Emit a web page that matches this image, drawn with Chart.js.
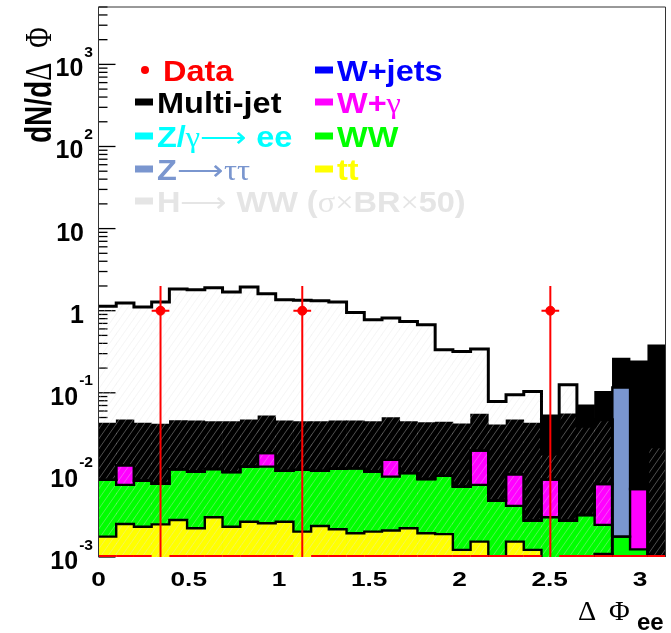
<!DOCTYPE html>
<html>
<head>
<meta charset="utf-8">
<title>dN/dΔΦ ee</title>
<script src="https://cdn.jsdelivr.net/npm/chart.js@4.4.1/dist/chart.umd.min.js"></script>
<style>
  html, body { margin: 0; padding: 0; background: #fff; }
  #wrap { width: 671px; height: 633px; }
</style>
</head>
<body>
<div id="wrap"><canvas id="chart" width="671" height="633"></canvas></div>
<script>
// 32 bins in delta-phi, 0 .. pi
const NBINS = 32;
const X_MAX = Math.PI;

// per-bin contributions, dN/dΔΦ
const ttbar = [0.00177, 0.00252, 0.00234, 0.0025, 0.00282, 0.00224, 0.00305, 0.00234,
  0.00269, 0.00258, 0.00269, 0.00204, 0.00239, 0.00218, 0.00195, 0.00204,
  0.0021, 0.00224, 0.00195, 0.0019, 0.00122, 0.00154, 0, 0.00154,
  0.00122, 0, 0, 0, 0.00109, 0, 0, 0];
const ww = [0.00692, 0.00503, 0.00614, 0.0053, 0.00888, 0.00876, 0.00875, 0.00846,
  0.00991, 0.01002, 0.00851, 0.00946, 0.00881, 0.00972, 0.01005, 0.00896,
  0.00744, 0.00826, 0.00695, 0.00783, 0.00598, 0.00601, 0.00486, 0.00265,
  0.00155, 0.00305, 0.00277, 0.00325, 0.00137, 0.00177, 0.00124, 0];
const wgamma = [0, 0.0055, 0, 0, 0, 0, 0, 0,
  0, 0.0058, 0, 0, 0, 0, 0, 0,
  0.0057, 0, 0, 0, 0, 0.0122, 0, 0.006,
  0, 0.0057, 0, 0, 0.0053, 0, 0.0055, 0];
const ztautau = [0, 0, 0, 0, 0, 0, 0, 0,
  0, 0, 0, 0, 0, 0, 0, 0,
  0, 0, 0, 0, 0, 0, 0, 0,
  0, 0, 0, 0, 0, 0.114, 0, 0];
const zee = [0, 0, 0, 0, 0, 0, 0, 0,
  0, 0, 0, 0, 0, 0, 0, 0,
  0, 0, 0, 0, 0, 0, 0, 0,
  0, 0, 0, 0, 0, 0, 0, 0];
const wjets = [0, 0, 0, 0, 0, 0, 0, 0,
  0, 0, 0, 0, 0, 0, 0, 0,
  0, 0, 0, 0, 0, 0, 0, 0,
  0, 0, 0, 0, 0, 0, 0, 0];
const multijet = [0.034, 0.0339, 0.0342, 0.0337, 0.0342, 0.0346, 0.0329, 0.0339,
  0.0343, 0.0341, 0.0344, 0.0332, 0.0335, 0.0337, 0.0336, 0.0337,
  0.0348, 0.0342, 0.0346, 0.0342, 0.0346, 0.0352, 0.0358, 0.0367,
  0.0399, 0.0453, 0.0527, 0.0682, 0.0962, 0.149, 0.238, 0.385];
// H -> WW signal, scaled x50, drawn on its own (not stacked)
const higgsX50 = [1.13, 1.24, 1.11, 1.28, 1.84, 1.80, 1.90, 1.69,
  1.95, 1.61, 1.36, 1.34, 1.32, 1.28, 0.953, 0.777,
  0.815, 0.741, 0.675, 0.334, 0.319, 0.341, 0.0783, 0.0946,
  0.104, 0.018, 0.125, 0.039, 0.047, 0, 0, 0.022];
// data
const dataValues = [0, 0, 0, 1, 0, 0, 0, 0,
  0, 0, 0, 1, 0, 0, 0, 0,
  0, 0, 0, 0, 0, 0, 0, 0,
  0, 1, 0, 0, 0, 0, 0, 0];
const dataErrors = [0, 0, 0, 1, 0, 0, 0, 0,
  0, 0, 0, 1, 0, 0, 0, 0,
  0, 0, 0, 0, 0, 0, 0, 0,
  0, 1, 0, 0, 0, 0, 0, 0];

// axes
const yTickValues = [1e-3, 1e-2, 1e-1, 1, 10, 100, 1000];
const yTickLabels = [['10', '-3'], ['10', '-2'], ['10', '-1'], ['1', ''], ['10', ''], ['10', '2'], ['10', '3']];
const xTickValues = [0, 0.5, 1, 1.5, 2, 2.5, 3];
const xTickLabels = ['0', '0.5', '1', '1.5', '2', '2.5', '3'];
const Y_MIN = 1e-3;
const Y_MAX = 5000;

const binEdges = Array.from({ length: NBINS + 1 }, (_, i) => i * X_MAX / NBINS);
const binCenters = binEdges.slice(0, NBINS).map((e, i) => (e + binEdges[i + 1]) / 2);
const binLabels = binCenters.map(c => c.toFixed(3));

const SANS = '"Liberation Sans", Arial, Helvetica, sans-serif';
const SERIF = '"Liberation Serif", "Times New Roman", serif';

// 背景成分 (bottom to top)
const bgComponents = [
  { label: 'tt', values: ttbar, color: '#ffff00' },
  { label: 'WW', values: ww, color: '#00ff00' },
  { label: 'W+γ', values: wgamma, color: '#ff00ff' },
  { label: 'Z→ττ', values: ztautau, color: '#7a96cf' },
  { label: 'Z/γ→ee', values: zee, color: '#00ffff' },
  { label: 'W+jets', values: wjets, color: '#0000ff' },
  { label: 'Multi-jet', values: multijet, color: '#000000' }
];

// cumulative sums, drawn largest first like a THStack
const cumulative = [];
let running = ttbar.map(() => 0);
bgComponents.forEach(c => {
  running = running.map((v, i) => v + c.values[i]);
  cumulative.push(running);
});

// step outline as a line on the linear axis (zeros pushed below the frame)
function stepLine(values) {
  const pts = values.map((v, i) => ({ x: binEdges[i], y: Math.max(v, Y_MIN / 10) }));
  pts.push({ x: X_MAX, y: Math.max(values[NBINS - 1], Y_MIN / 10) });
  return pts;
}

// light grey hatch for the signal
function makeHatch(ctx) {
  const c = document.createElement('canvas');
  c.width = 7; c.height = 10;
  const g = c.getContext('2d');
  g.strokeStyle = 'rgba(225,225,225,0.35)';
  g.lineWidth = 1;
  g.beginPath();
  for (let k = -1; k <= 1; k++) {
    g.moveTo(k * 7, 10);
    g.lineTo(k * 7 + 7, 0);
  }
  g.stroke();
  return ctx.createPattern(c, 'repeat');
}

// text made of pieces in different fonts
function richText(ctx, parts, x, y, align, sx, sy) {
  ctx.save();
  let total = 0;
  parts.forEach(p => { ctx.font = p.font; total += ctx.measureText(p.text).width + (p.gap || 0); });
  ctx.translate(x, y);
  ctx.scale(sx || 1, sy || 1);
  let cx = align === 'right' ? -total : (align === 'center' ? -total / 2 : 0);
  ctx.textAlign = 'left';
  ctx.textBaseline = 'alphabetic';
  parts.forEach(p => {
    ctx.font = p.font;
    ctx.fillStyle = p.color;
    ctx.fillText(p.text, cx, p.dy || 0);
    cx += ctx.measureText(p.text).width + (p.gap || 0);
  });
  ctx.restore();
}

const LEG_B = 'bold 29px ' + SANS;
const LEG_S = '29px ' + SERIF;
const legendEntries = [
  { col: 0, row: 0, color: '#ff0000', marker: 'dot', parts: [['Data', LEG_B]] },
  { col: 0, row: 1, color: '#000000', parts: [['Multi-jet', LEG_B]] },
  { col: 0, row: 2, color: '#00ffff', parts: [['Z/', LEG_B], ['γ⟶', LEG_S], [' ee', LEG_B]] },
  { col: 0, row: 3, color: '#7a96cf', parts: [['Z', LEG_B], ['⟶ττ', LEG_S]] },
  { col: 0, row: 4, color: '#e5e5e5', parts: [['H', LEG_B], ['⟶', LEG_S], [' WW (', LEG_B], ['σ×', LEG_S], ['BR', LEG_B], ['×', LEG_S], ['50)', LEG_B]] },
  { col: 1, row: 0, color: '#0000ff', parts: [['W+jets', LEG_B]] },
  { col: 1, row: 1, color: '#ff00ff', parts: [['W+', LEG_B], ['γ', LEG_S]] },
  { col: 1, row: 2, color: '#00ff00', parts: [['WW', LEG_B]] },
  { col: 1, row: 3, color: '#ffff00', parts: [['tt', LEG_B]] }
];
const legendColX = [135, 315];
const legendRowY = [81, 113, 147, 180, 212];

const rootStyle = {
  id: 'rootStyle',
  beforeDatasetsDraw(chart) {
    // inner tick marks on the log axis
    const { ctx, chartArea: a, scales: { y } } = chart;
    ctx.save();
    ctx.strokeStyle = '#000';
    ctx.lineWidth = 1.3;
    for (let e = -3; e <= 3; e++) {
      for (let k = 1; k <= 9; k++) {
        const v = k * Math.pow(10, e);
        if (v > y.max) continue;
        const py = y.getPixelForValue(v);
        ctx.beginPath();
        ctx.moveTo(a.left, py);
        ctx.lineTo(a.left + (k === 1 ? 17 : 9), py);
        ctx.stroke();
      }
    }
    ctx.restore();
  },
  afterDatasetsDraw(chart) {
    const { ctx, chartArea: a, scales: { xLin, y } } = chart;
    ctx.save();
    ctx.beginPath();
    ctx.rect(a.left, a.top, a.right - a.left, a.bottom - a.top + 1);
    ctx.clip();
    // data error bars, zero bins drawn on the lower edge
    ctx.strokeStyle = '#ff0000';
    ctx.lineWidth = 2;
    dataValues.forEach((v, i) => {
      const x0 = xLin.getPixelForValue(binEdges[i]);
      const x1 = xLin.getPixelForValue(binEdges[i + 1]);
      const xc = xLin.getPixelForValue(binCenters[i]);
      ctx.beginPath();
      if (v <= 0) {
        ctx.moveTo(x0, a.bottom - 1);
        ctx.lineTo(x1, a.bottom - 1);
      } else {
        const py = y.getPixelForValue(v);
        const hi = y.getPixelForValue(v + dataErrors[i]);
        const lo = v - dataErrors[i] > 0 ? y.getPixelForValue(v - dataErrors[i]) : a.bottom;
        ctx.moveTo(x0, py);
        ctx.lineTo(x1, py);
        ctx.moveTo(xc, hi);
        ctx.lineTo(xc, lo);
      }
      ctx.stroke();
    });
    ctx.restore();

    // frame
    ctx.save();
    ctx.strokeStyle = '#333';
    ctx.lineWidth = 1;
    ctx.beginPath();
    ctx.moveTo(a.left, a.bottom);
    ctx.lineTo(a.left, a.top);
    ctx.lineTo(a.right, a.top);
    ctx.lineTo(a.right, a.bottom);
    ctx.stroke();
    ctx.restore();
  },
  afterDraw(chart) {
    const { ctx, scales: { xLin, y } } = chart;

    // y tick labels with exponents
    y.ticks.forEach(t => {
      const idx = yTickValues.indexOf(t.value);
      if (idx < 0) return;
      const [base, exp] = yTickLabels[idx];
      const py = y.getPixelForValue(t.value);
      if (exp) {
        ctx.save();
        ctx.font = 'bold 15px ' + SANS;
        const ew = ctx.measureText(exp).width * 1.04;
        ctx.restore();
        richText(ctx, [{ text: base, font: 'bold 24px ' + SANS, color: '#000' }], 93 - ew - 1, py + 12, 'right', 1.04, 1.05);
        richText(ctx, [{ text: exp, font: 'bold 15px ' + SANS, color: '#000' }], 93 - ew, py - 7.5, 'left', 1.04);
      } else {
        richText(ctx, [{ text: base, font: 'bold 24px ' + SANS, color: '#000' }], 84, py + 12, 'right', 1.04, 1.05);
      }
    });

    // x tick labels
    xLin.ticks.forEach(t => {
      const idx = xTickValues.indexOf(t.value);
      if (idx < 0) return;
      richText(ctx, [{ text: xTickLabels[idx], font: 'bold 21px ' + SANS, color: '#000' }],
        xLin.getPixelForValue(t.value), 586, 'center', 1.25);
    });

    // axis titles
    richText(ctx, [{ text: 'Δ', font: '27px ' + SERIF, color: '#000' }], 578, 620, 'left', 1.05);
    richText(ctx, [{ text: 'Φ', font: '27px ' + SERIF, color: '#000' }], 609, 620, 'left', 1.05);
    richText(ctx, [{ text: 'ee', font: 'bold 24px ' + SANS, color: '#000' }], 637, 630, 'left', 1);

    ctx.save();
    ctx.translate(51, 143);
    ctx.rotate(-Math.PI / 2);
    richText(ctx, [
      { text: 'dN/d', font: 'bold 28px ' + SANS, color: '#000' },
      { text: 'Δ', font: '28px ' + SERIF, color: '#000', gap: 8 },
      { text: ' Φ', font: '28px ' + SERIF, color: '#000' }
    ], 0, 0, 'left', 1, 1.35);
    ctx.restore();

    // legend
    legendEntries.forEach(en => {
      const x = legendColX[en.col];
      const by = legendRowY[en.row];
      ctx.save();
      ctx.fillStyle = en.color;
      if (en.marker === 'dot') {
        ctx.beginPath();
        ctx.arc(x + 10, by - 11, 4, 0, Math.PI * 2);
        ctx.fill();
      } else {
        ctx.fillRect(x, by - 14.5, 18, 7);
      }
      ctx.restore();
      richText(ctx, en.parts.map(p => ({ text: p[0], font: p[1], color: en.color })),
        x + (en.marker === 'dot' ? 28 : 22), by, 'left', 1.12);
    });
  }
};

const canvas = document.getElementById('chart');
const ctx = canvas.getContext('2d');
const hatch = makeHatch(ctx);

const datasets = [];
// data points
datasets.push({
  type: 'line',
  label: 'Data',
  xAxisID: 'xLin',
  data: binCenters.map((c, i) => ({ x: c, y: dataValues[i] > 0 ? dataValues[i] : null })),
  showLine: false,
  pointRadius: 4.5,
  pointBackgroundColor: '#ff0000',
  pointBorderColor: '#ff0000',
  order: 0
});
// signal outline
datasets.push({
  type: 'line',
  label: 'H→WW outline',
  xAxisID: 'xLin',
  data: stepLine(higgsX50),
  stepped: true,
  borderColor: '#000',
  borderWidth: 3,
  pointRadius: 0,
  fill: false,
  order: 1
});
// stack outlines: tt, +WW, +Wγ, +Zττ
[0, 1, 2, 3].forEach(k => {
  datasets.push({
    type: 'line',
    label: bgComponents[k].label + ' outline',
    xAxisID: 'xLin',
    data: stepLine(cumulative[k]),
    stepped: true,
    borderColor: '#000',
    borderWidth: 2.4,
    pointRadius: 0,
    fill: false,
    order: 2
  });
});
// signal hatch (not stacked)
datasets.push({
  type: 'bar',
  label: 'H→WW (σ×BR×50)',
  xAxisID: 'x',
  data: higgsX50.map(v => v > 0 ? v : null),
  backgroundColor: hatch,
  borderWidth: 0,
  grouped: false,
  barPercentage: 1,
  categoryPercentage: 1,
  order: 3
});
// background stack: each cumulative sum drawn from zero, biggest first
bgComponents.forEach((c, k) => {
  if (!c.values.some(v => v > 0)) return;
  datasets.push({
    type: 'bar',
    label: c.label,
    xAxisID: 'x',
    data: cumulative[k].map(v => v > 0 ? v : null),
    backgroundColor: c.color,
    borderWidth: 0,
    grouped: false,
    barPercentage: 1,
    categoryPercentage: 1,
    order: 4 + k
  });
});

new Chart(ctx, {
  type: 'bar',
  data: {
    labels: binLabels,
    datasets: datasets
  },
  options: {
    responsive: false,
    animation: false,
    layout: { padding: { top: 7, right: 5.5, bottom: 0, left: 0 } },
    plugins: {
      legend: { display: false },
      tooltip: { enabled: false }
    },
    scales: {
      x: {
        type: 'category',
        display: false,
        offset: true,
        grid: { offset: true }
      },
      xLin: {
        type: 'linear',
        position: 'bottom',
        offset: false,
        min: 0,
        max: X_MAX,
        afterBuildTicks: axis => { axis.ticks = xTickValues.map(v => ({ value: v })); },
        afterFit: axis => { axis.height = 76; },
        ticks: { display: false },
        grid: { display: false, drawTicks: false, offset: false },
        border: { display: false }
      },
      y: {
        type: 'logarithmic',
        position: 'left',
        stacked: false,
        min: Y_MIN,
        max: Y_MAX,
        afterBuildTicks: axis => { axis.ticks = yTickValues.map(v => ({ value: v })); },
        afterFit: axis => { axis.width = 98.5; },
        ticks: { display: false },
        grid: { display: false, drawTicks: false },
        border: { display: false }
      }
    }
  },
  plugins: [rootStyle]
});
</script>
</body>
</html>
